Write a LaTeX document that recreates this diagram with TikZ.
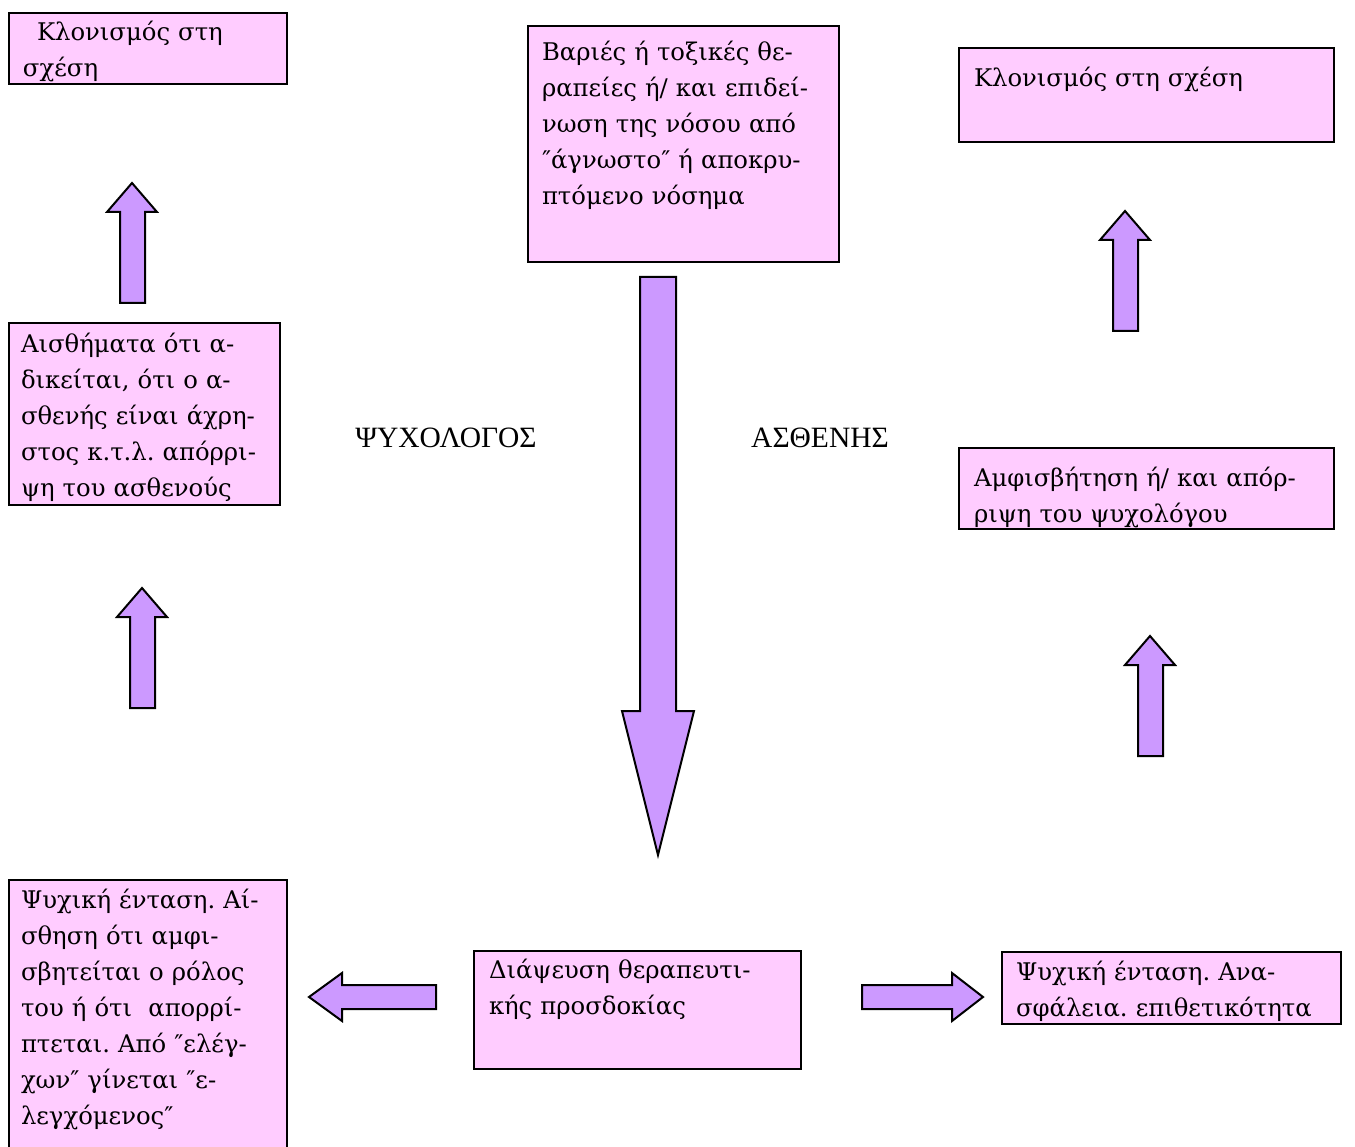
\documentclass[tikz,border=0pt]{standalone}
\usepackage{fontspec}
\setmainfont{Liberation Serif}
\newfontfamily\boxfamily{DejaVu Serif}
\frenchspacing
\definecolor{boxpink}{HTML}{FFCCFF}
\definecolor{lilac}{HTML}{CC99FF}
\tikzset{
    box/.style = {draw, fill=boxpink, line width=2pt,
        anchor=north west, align=left,
        inner ysep=0pt, inner xsep=14pt,
        font=\boxfamily\fontsize{24.3}{36}\selectfont},
    barrow/.style = {draw, fill=lilac, line width=2pt},
    side/.style = {font=\fontsize{29.5}{32}\selectfont}
}

\begin{document}
\begin{tikzpicture}[x=1pt, y=-1pt]
            \useasboundingbox (0,0) rectangle (1355,1147);
            \clip (0,0) rectangle (1355,1147);
            % text boxes
            \node [box, text width=250pt, text height=28pt, text depth=43pt] (k0) at (8,12)
                {\hspace*{14pt}Κλονισμός στη\\σχέση};
            \node [box, text width=283pt, text height=35pt, text depth=201pt] (k1) at (527,25)
                {Βαριές ή τοξικές θε-\\ραπείες ή/ και επιδεί-\\νωση της νόσου από\\″άγνωστο″ ή αποκρυ-\\πτόμενο νόσημα};
            \node [box, inner xsep=15pt, text width=345pt, text height=39pt, text depth=55pt] (k2) at (958,47)
                {Κλονισμός στη σχέση};
            \node [box, inner xsep=12pt, text width=247pt, text height=30pt, text depth=152pt] (k3) at (8,322)
                {Αισθήματα ότι α-\\δικείται, ότι ο α-\\σθενής είναι άχρη-\\στος κ.τ.λ. απόρρι-\\ψη του ασθενούς};
            \node [box, inner xsep=15pt, text width=345pt, text height=38pt, text depth=43pt] (k4) at (958,447)
                {Αμφισβήτηση ή/ και απόρ-\\ριψη του ψυχολόγου};
            \node [box, inner xsep=12pt, text width=254pt, text height=28pt, text depth=263pt] (k5) at (8,879)
                {Ψυχική ένταση. Αί-\\σθηση ότι αμφι-\\σβητείται ο ρόλος\\του ή ότι \ απορρί-\\πτεται. Από ″ελέγ-\\χων″ γίνεται ″ε-\\λεγχόμενος″};
            \node [box, inner xsep=15pt, text width=297pt, text height=27pt, text depth=91pt] (k6) at (473,950)
                {Διάψευση θεραπευτι-\\κής προσδοκίας};
            \node [box, text width=311pt, text height=28pt, text depth=44pt] (k7) at (1001,951)
                {Ψυχική ένταση. Ανα-\\σφάλεια. επιθετικότητα};
            % side labels
            \node [side] (psy) at (446,438) {ΨΥΧΟΛΟΓΟΣ};
            \node [side] (pat) at (820,438) {ΑΣΘΕΝΗΣ};
            % block arrows
            \draw [barrow] (132,183) -- (157,212) -- (145,212) -- (145,303) -- (120,303) -- (120,212) -- (107,212) -- cycle;
            \draw [barrow] (142,588) -- (167,617) -- (155,617) -- (155,708) -- (130,708) -- (130,617) -- (117,617) -- cycle;
            \draw [barrow] (1125,211) -- (1150,240) -- (1138,240) -- (1138,331) -- (1113,331) -- (1113,240) -- (1100,240) -- cycle;
            \draw [barrow] (1150,636) -- (1175,665) -- (1163,665) -- (1163,756) -- (1138,756) -- (1138,665) -- (1125,665) -- cycle;
            \draw [barrow] (640,277) -- (676,277) -- (676,711) -- (694,711) -- (658,855) -- (622,711) -- (640,711) -- cycle;
            \draw [barrow] (309,997) -- (342,973) -- (342,985) -- (436,985) -- (436,1009) -- (342,1009) -- (342,1021) -- cycle;
            \draw [barrow] (862,985) -- (952,985) -- (952,973) -- (983,997) -- (952,1021) -- (952,1009) -- (862,1009) -- cycle;
        \end{tikzpicture}
\end{document}
